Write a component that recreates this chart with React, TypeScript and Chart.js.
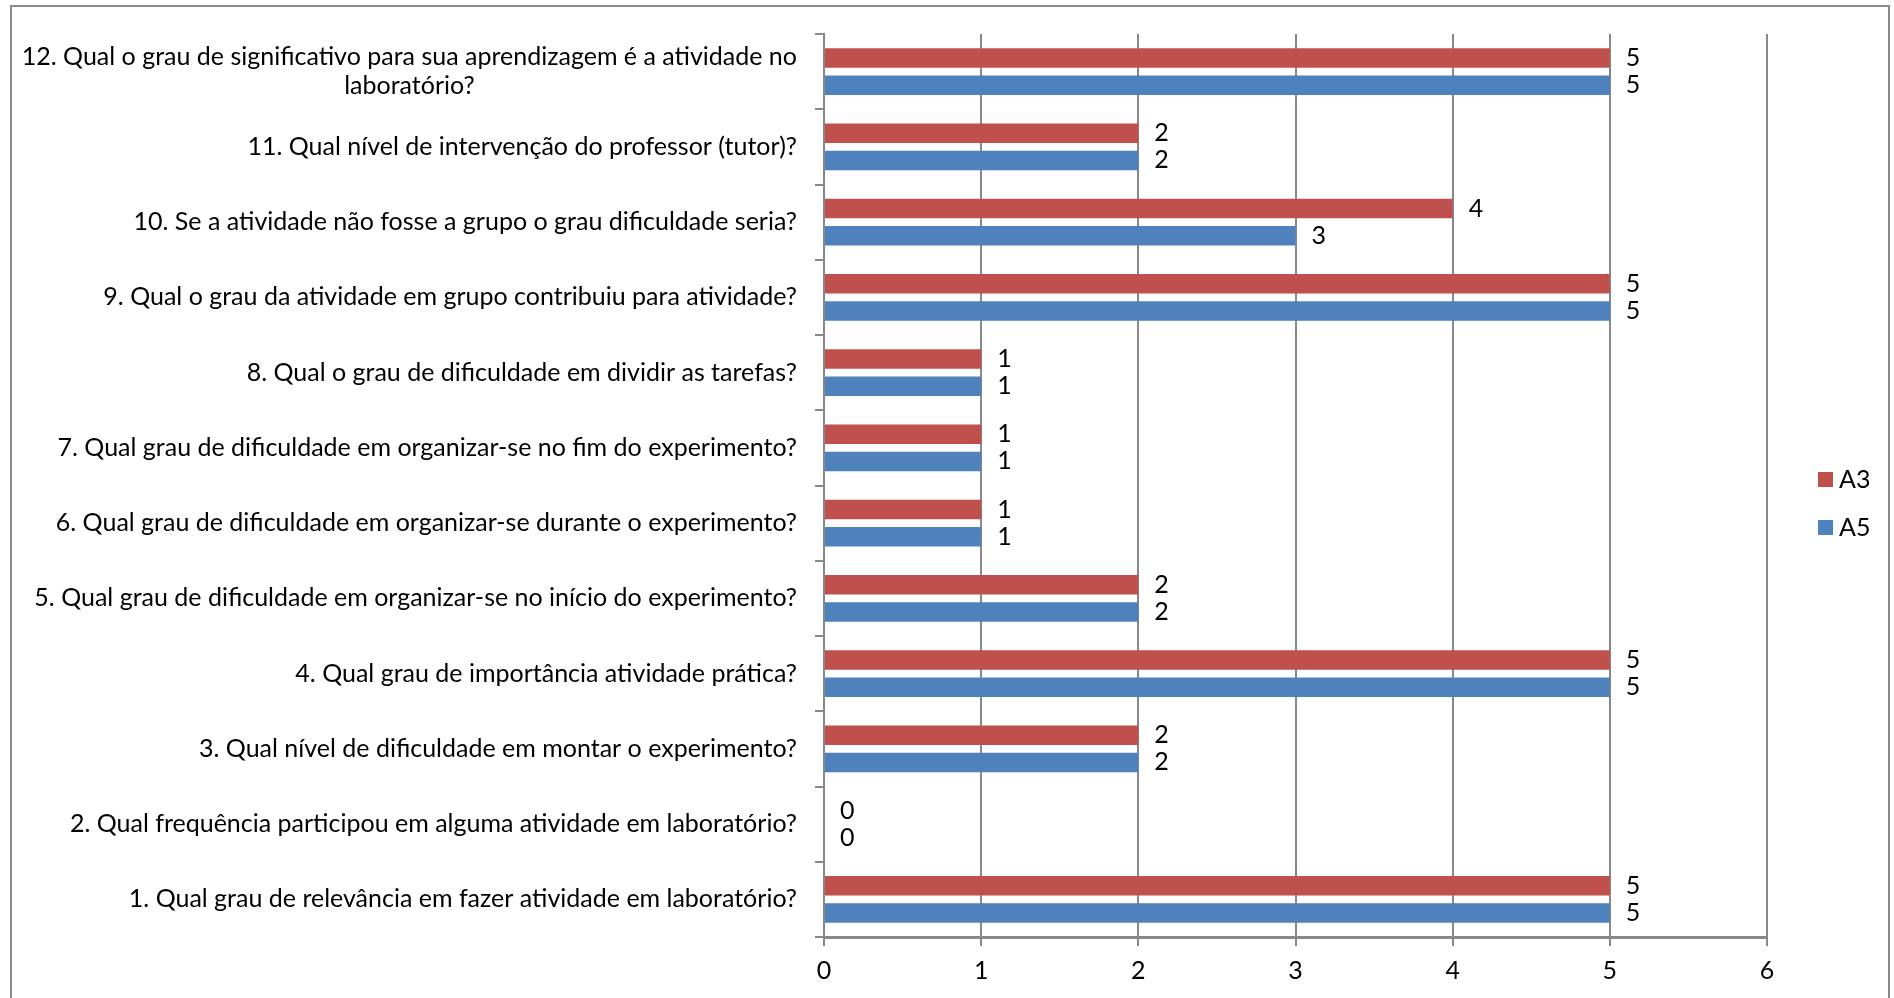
import React, { useEffect, useRef } from "react";
import { Chart, registerables } from "chart.js";
Chart.register(...registerables);

const categories: (string | string[])[] = [
  ["12. Qual o grau de significativo para sua aprendizagem é a atividade no", "laboratório?"],
  "11. Qual nível de intervenção do professor (tutor)?",
  "10. Se a atividade não fosse a grupo o grau dificuldade seria?",
  "9. Qual o grau da atividade em grupo contribuiu para atividade?",
  "8. Qual o grau de dificuldade em dividir as tarefas?",
  "7. Qual grau de dificuldade em organizar-se no fim do experimento?",
  "6. Qual grau de dificuldade em organizar-se durante o experimento?",
  "5. Qual grau de dificuldade em organizar-se no início do experimento?",
  "4. Qual grau de importância atividade prática?",
  "3. Qual nível de dificuldade em montar o experimento?",
  "2. Qual frequência participou em alguma atividade em laboratório?",
  "1. Qual grau de relevância em fazer atividade em laboratório?",
];
const seriesA3 = [5, 2, 4, 5, 1, 1, 1, 2, 5, 2, 0, 5];
const seriesA5 = [5, 2, 3, 5, 1, 1, 1, 2, 5, 2, 0, 5];
const seriesNames = ["A3", "A5"];
const seriesColors = ["#C0504D", "#4F81BD"];
const xMin = 0;
const xMax = 6;

const FONT_FAMILY = "Lato, 'Open Sans', sans-serif";
const FONT_SIZE = 25;
const GRID = "#888888";

const overlay = {
  id: "overlay",
  afterDraw(chart: any) {
    const ctx = chart.ctx;
    const area = chart.chartArea;
    const yScale = chart.scales.y;
    ctx.save();
    ctx.fillStyle = "#000";
    ctx.font = `${FONT_SIZE}px ${FONT_FAMILY}`;
    ctx.textBaseline = "middle";
    // category labels
    const rightEdge = area.left - 27;
    categories.forEach((lab, i) => {
      const y = yScale.getPixelForValue(i);
      if (Array.isArray(lab)) {
        const lh = 29;
        ctx.textAlign = "right";
        ctx.fillText(lab[0], rightEdge, y - lh / 2);
        const w = ctx.measureText(lab[0]).width;
        ctx.textAlign = "center";
        ctx.fillText(lab[1], rightEdge - w / 2, y + lh / 2);
      } else {
        ctx.textAlign = "right";
        ctx.fillText(lab, rightEdge, y);
      }
    });
    // data labels
    ctx.textAlign = "left";
    chart.data.datasets.forEach((ds: any, di: number) => {
      const meta = chart.getDatasetMeta(di);
      meta.data.forEach((bar: any, i: number) => {
        ctx.fillText(String(ds.data[i]), bar.x + 16, bar.y);
      });
    });
    // legend
    const lx = area.right + 51;
    const midY = (area.top + area.bottom) / 2;
    seriesNames.forEach((name, i) => {
      const cy = midY - 24 + i * 48 + 18;
      ctx.fillStyle = seriesColors[i];
      ctx.fillRect(lx, cy - 7.5, 15, 15);
      ctx.fillStyle = "#000";
      ctx.textAlign = "left";
      ctx.fillText(name, lx + 21, cy);
    });
    // outer border
    ctx.strokeStyle = "#8a8a8a";
    ctx.lineWidth = 2;
    ctx.strokeRect(11, 6, 1878, 1010);
    ctx.restore();
  },
};

export default function App() {
  const ref = useRef<HTMLCanvasElement | null>(null);
  useEffect(() => {
    document.body.style.margin = "0";
    const canvas = ref.current!;
    const chart = new Chart(canvas, {
      type: "bar",
      data: {
        labels: categories.map((c) => (Array.isArray(c) ? c.join(" ") : c)),
        datasets: seriesNames.map((name, i) => ({
          label: name,
          data: i === 0 ? seriesA3 : seriesA5,
          backgroundColor: seriesColors[i],
          categoryPercentage: 0.72,
          barPercentage: 0.72,
        })),
      },
      options: {
        indexAxis: "y",
        responsive: false,
        animation: false,
        layout: { padding: { left: 0, top: 34, right: 127, bottom: 0 } },
        plugins: { legend: { display: false }, tooltip: { enabled: false } },
        scales: {
          x: {
            min: xMin,
            max: xMax,
            ticks: {
              stepSize: 1,
              color: "#000",
              font: { family: FONT_FAMILY, size: FONT_SIZE },
              padding: 10,
            },
            grid: { color: GRID, lineWidth: 2, tickLength: 9 },
            border: { color: GRID, width: 3 },
            afterFit: (s: any) => {
              s.height = 61;
            },
          },
          y: {
            ticks: { display: false },
            grid: { drawOnChartArea: false, color: GRID, lineWidth: 2, tickLength: 9, offset: true },
            border: { color: GRID, width: 2 },
            afterFit: (s: any) => {
              s.width = 824;
            },
          },
        },
      },
      plugins: [overlay],
    });
    return () => chart.destroy();
  }, []);
  return (
    <div style={{ width: 1894, height: 998, background: "#fff" }}>
      <canvas ref={ref} width={1894} height={998} style={{ display: "block" }} />
    </div>
  );
}
